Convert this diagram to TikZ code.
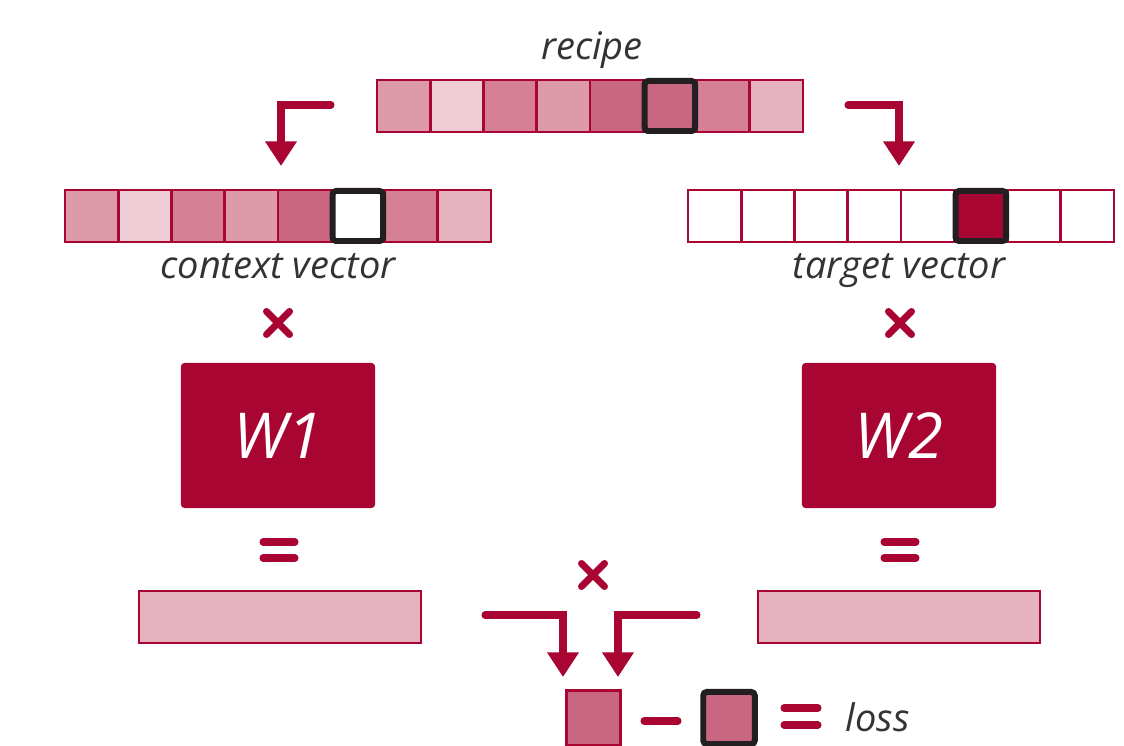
\documentclass[tikz,border=0pt]{standalone}
\usepackage{fontspec}
\setmainfont{Open Sans}
\usetikzlibrary{arrows.meta}
\definecolor{crim}{HTML}{A80533}
\definecolor{pa}{HTML}{DD9AAB}
\definecolor{pb}{HTML}{EECCD5}
\definecolor{pc}{HTML}{D68095}
\definecolor{pd}{HTML}{C96682}
\definecolor{pe}{HTML}{E6B2C0}
\definecolor{blk}{HTML}{231F20}
\definecolor{txt}{HTML}{333333}
\tikzset{
  cell/.style={draw=crim, line width=0.75pt, minimum width=0.5325cm, minimum height=0.52cm, inner sep=0pt, outer sep=0pt},
  hl/.style={draw=blk, line width=1.7pt, minimum width=0.505cm, minimum height=0.50cm, rounded corners=1pt, inner sep=0pt},
  lab/.style={text=txt, font=\fontsize{10.8pt}{12pt}\selectfont\itshape, inner sep=0pt, anchor=base},
  arr/.style={draw=crim, line width=2pt, line cap=round, -{Triangle[width=8.6pt,length=7pt]}},
  opline/.style={draw=crim, line width=2pt, line cap=round},
  wbox/.style={fill=crim, rounded corners=1pt, minimum width=1.94cm, minimum height=1.45cm, text=white, font=\fontsize{18pt}{20pt}\selectfont\itshape},
  bar/.style={draw=crim, line width=0.75pt, fill=pe, minimum width=2.82cm, minimum height=0.52cm, inner sep=0pt}
}
\newcommand{\crossat}[2]{\draw[opline] (#1-11.5,#2-11.5) -- (#1+11.5,#2+11.5) (#1-11.5,#2+11.5) -- (#1+11.5,#2-11.5);}
\newcommand{\eqat}[2]{\draw[opline] (#1-16,#2-8) -- (#1+16,#2-8) (#1-16,#2+8) -- (#1+16,#2+8);}
\begin{document}
\begin{tikzpicture}[x=0.01cm,y=-0.01cm]
\useasboundingbox (0,0) rectangle (1124,746);
\clip (0,0) rectangle (1124,746);
% recipe row
\foreach \i/\c in {0/pa,1/pb,2/pc,3/pa,4/pd,5/pd,6/pc,7/pe}{
  \node[cell, fill=\c] (r\i) at ({377+53.25*(\i+0.5)},106) {};
}
\node[hl, fill=pd] (rh) at (r5) {};
\node[lab] (recipe) at (592,60) {recipe};
% context row
\foreach \i/\c in {0/pa,1/pb,2/pc,3/pa,4/pd,5/white,6/pc,7/pe}{
  \node[cell, fill=\c] (c\i) at ({65+53.25*(\i+0.5)},216) {};
}
\node[hl, fill=white] (ch) at (c5) {};
\node[lab] (ctxlab) at (278,279) {context vector};
% target row
\foreach \i in {0,...,7}{
  \node[cell, fill=white] (t\i) at ({688+53.25*(\i+0.5)},216) {};
}
\node[hl, fill=crim] (th) at (t5) {};
\node[lab] (tgtlab) at (899,279) {target vector};
% top arrows
\coordinate (a1s) at (331,105);
\coordinate (a1e) at (281,166);
\coordinate (a2s) at (848,105);
\coordinate (a2e) at (899,166);
\draw[arr] (a1s) -| (a1e);
\draw[arr] (a2s) -| (a2e);
% crosses
\crossat{278}{323}
\crossat{900}{323}
\crossat{593}{575}
% W boxes
\node[wbox] (w1) at (278,435.5) {W1};
\node[wbox] (w2) at (899,435.5) {W2};
% equals
\eqat{279}{550}
\eqat{900}{550}
% bars
\node[bar] (b1) at (280,617) {};
\node[bar] (b2) at (899,617) {};
% bottom arrows
\coordinate (a3s) at (485,615);
\coordinate (a3e) at (563,677);
\coordinate (a4s) at (697,615);
\coordinate (a4e) at (618,677);
\draw[arr] (a3s) -| (a3e);
\draw[arr] (a4s) -| (a4e);
% loss row
\node[cell, fill=pd, minimum width=0.545cm, minimum height=0.55cm] (s1) at (593.5,718) {};
\draw[opline] (644,721) -- (678,721);
\node[hl, fill=pd, minimum width=0.515cm, minimum height=0.52cm] (s2) at (729,718) {};
\draw[opline] (784,708) -- (818,708) (784,725) -- (818,725);
\node[lab, anchor=base west] (loss) at (845,731) {loss};
\end{tikzpicture}
\end{document}
